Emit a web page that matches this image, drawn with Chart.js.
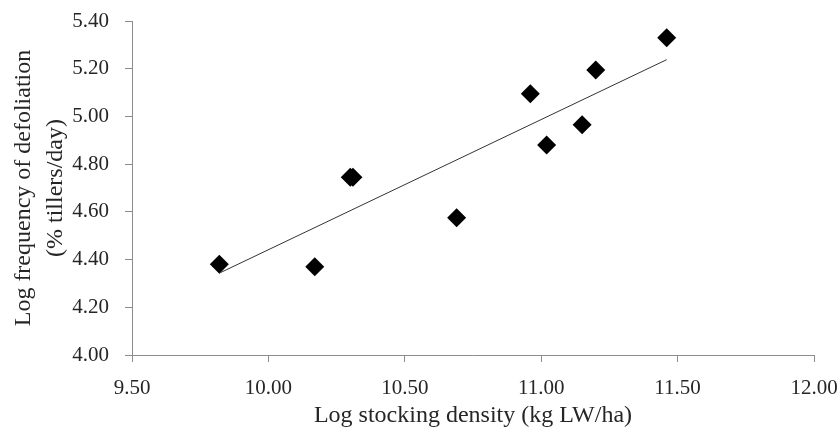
<!DOCTYPE html>
<html>
<head>
<meta charset="utf-8">
<script src="https://cdn.jsdelivr.net/npm/chart.js@4/dist/chart.umd.min.js"></script>
<style>
  html, body { margin: 0; padding: 0; background: #fff; }
  #wrap { width: 840px; height: 437px; }
</style>
</head>
<body>
<div id="wrap"><canvas id="myChart"></canvas></div>
<script>
// Observed points: log stocking density vs log frequency of defoliation
const stockingDensity = [9.82, 10.17, 10.30, 10.31, 10.69, 10.96, 11.02, 11.15, 11.20, 11.46];
const defoliationFreq = [4.38, 4.37, 4.745, 4.745, 4.575, 5.095, 4.88, 4.965, 5.195, 5.33];

// Linear trend line end points
const trendX = [9.82, 11.46];
const trendY = [4.343, 5.238];

// Axis ticks
const xTicks = [9.5, 10.0, 10.5, 11.0, 11.5, 12.0];
const yTicks = [4.0, 4.2, 4.4, 4.6, 4.8, 5.0, 5.2, 5.4];

const fontFamily = "'Liberation Serif', 'Times New Roman', serif";

var points = stockingDensity.map(function(x, i) { return { x: x, y: defoliationFreq[i] }; });
var trend = trendX.map(function(x, i) { return { x: x, y: trendY[i] }; });

var ctx = document.getElementById('myChart').getContext('2d');
var myChart = new Chart(ctx, {
    type: 'scatter',
    data: {
        datasets: [{
            label: 'Trend',
            type: 'line',
            data: trend,
            borderColor: '#333333',
            borderWidth: 1,
            pointRadius: 0,
            fill: false
        }, {
            label: 'Observed',
            data: points,
            pointStyle: 'rectRot',
            pointRadius: 9.5,
            pointHoverRadius: 9.5,
            backgroundColor: '#000000',
            borderColor: '#000000',
            borderWidth: 0
        }]
    },
    options: {
        responsive: true,
        maintainAspectRatio: false,
        animation: false,
        layout: {
            padding: { top: 21, right: 26, bottom: 0, left: 0 }
        },
        plugins: {
            legend: { display: false },
            tooltip: { enabled: false }
        },
        scales: {
            x: {
                type: 'linear',
                min: 9.5,
                max: 12.0,
                afterBuildTicks: function(axis) {
                    axis.ticks = xTicks.map(function(v) { return { value: v }; });
                },
                afterFit: function(axis) {
                    axis.height = 82;
                    axis.paddingLeft = 0;
                    axis.paddingRight = 0;
                },
                grid: {
                    display: true,
                    drawOnChartArea: false,
                    drawTicks: true,
                    tickLength: 7,
                    color: '#8c8c8c'
                },
                border: { color: '#8c8c8c', width: 1 },
                ticks: {
                    color: '#262626',
                    padding: 14,
                    font: { family: fontFamily, size: 21 },
                    callback: function(v) { return v.toFixed(2); }
                },
                title: {
                    display: true,
                    text: 'Log stocking density (kg LW/ha)',
                    color: '#262626',
                    font: { family: fontFamily, size: 24 },
                    padding: { top: 0, bottom: 7 }
                }
            },
            y: {
                type: 'linear',
                min: 4.0,
                max: 5.4,
                afterBuildTicks: function(axis) {
                    axis.ticks = yTicks.map(function(v) { return { value: v }; });
                },
                afterFit: function(axis) {
                    axis.width = 132;
                    axis.paddingTop = 0;
                    axis.paddingBottom = 0;
                },
                grid: {
                    display: true,
                    drawOnChartArea: false,
                    drawTicks: true,
                    tickLength: 7,
                    color: '#8c8c8c'
                },
                border: { color: '#8c8c8c', width: 1 },
                ticks: {
                    color: '#262626',
                    padding: 16,
                    font: { family: fontFamily, size: 21 },
                    callback: function(v) { return v.toFixed(2); }
                },
                title: {
                    display: true,
                    text: ['Log frequency of defoliation', '(% tillers/day)'],
                    color: '#262626',
                    font: { family: fontFamily, size: 24, lineHeight: 1.33 },
                    padding: { top: 8, bottom: 0 }
                }
            }
        }
    }
});
</script>
</body>
</html>
